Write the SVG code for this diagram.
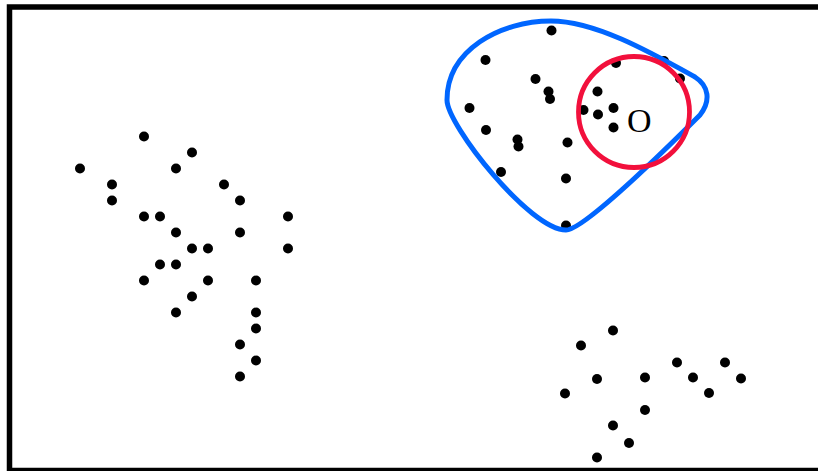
<svg xmlns="http://www.w3.org/2000/svg" width="818" height="471" viewBox="0 0 818 471">
<style>
.d{fill:#000}
.frame{fill:#fff;stroke:#000;stroke-width:5.5}
.blob{fill:none;stroke:#0066ff;stroke-width:5}
.ring{fill:none;stroke:#f2103c;stroke-width:4.8}
.lbl{font-family:"Liberation Serif",serif;font-size:34px;fill:#000}
</style>
<rect class="frame" x="9.5" y="7" width="900" height="463.5"/>
<g id="cluster-left">
<circle class="d" cx="144" cy="136.5" r="5"/><circle class="d" cx="192" cy="152.5" r="5"/>
<circle class="d" cx="80" cy="168.5" r="5"/><circle class="d" cx="176" cy="168.5" r="5"/>
<circle class="d" cx="112" cy="184.5" r="5"/><circle class="d" cx="224" cy="184.5" r="5"/>
<circle class="d" cx="112" cy="200.5" r="5"/><circle class="d" cx="240" cy="200.5" r="5"/>
<circle class="d" cx="144" cy="216.5" r="5"/><circle class="d" cx="160" cy="216.5" r="5"/><circle class="d" cx="288" cy="216.5" r="5"/>
<circle class="d" cx="176" cy="232.5" r="5"/><circle class="d" cx="240" cy="232.5" r="5"/>
<circle class="d" cx="192" cy="248.5" r="5"/><circle class="d" cx="208" cy="248.5" r="5"/><circle class="d" cx="288" cy="248.5" r="5"/>
<circle class="d" cx="160" cy="264.5" r="5"/><circle class="d" cx="176" cy="264.5" r="5"/>
<circle class="d" cx="144" cy="280.5" r="5"/><circle class="d" cx="208" cy="280.5" r="5"/><circle class="d" cx="256" cy="280.5" r="5"/>
<circle class="d" cx="192" cy="296.5" r="5"/>
<circle class="d" cx="176" cy="312.5" r="5"/><circle class="d" cx="256" cy="312.5" r="5"/>
<circle class="d" cx="256" cy="328.5" r="5"/>
<circle class="d" cx="240" cy="344.5" r="5"/>
<circle class="d" cx="256" cy="360.5" r="5"/>
<circle class="d" cx="240" cy="376.5" r="5"/>
</g>
<g id="cluster-bottom-right">
<circle class="d" cx="613" cy="330.5" r="5"/><circle class="d" cx="581" cy="345.5" r="5"/>
<circle class="d" cx="677" cy="362.5" r="5"/><circle class="d" cx="725" cy="362.5" r="5"/>
<circle class="d" cx="597" cy="379" r="5"/><circle class="d" cx="645" cy="377.5" r="5"/>
<circle class="d" cx="693" cy="377.5" r="5"/><circle class="d" cx="741" cy="378.5" r="5"/>
<circle class="d" cx="565" cy="393.5" r="5"/><circle class="d" cx="709" cy="393" r="5"/>
<circle class="d" cx="645" cy="410" r="5"/><circle class="d" cx="613" cy="425.5" r="5"/>
<circle class="d" cx="629" cy="443" r="5"/><circle class="d" cx="597" cy="457.5" r="5"/>
</g>
<g id="cluster-top">
<circle class="d" cx="551.5" cy="30.5" r="5"/><circle class="d" cx="485.5" cy="60" r="5"/>
<circle class="d" cx="535.5" cy="79" r="5"/><circle class="d" cx="548.5" cy="91.5" r="5"/>
<circle class="d" cx="550" cy="99" r="5"/><circle class="d" cx="469.5" cy="108" r="5"/>
<circle class="d" cx="616" cy="63" r="5"/><circle class="d" cx="664" cy="61" r="5"/>
<circle class="d" cx="680" cy="78.5" r="5"/><circle class="d" cx="597.5" cy="91.5" r="5"/>
<circle class="d" cx="583.5" cy="110" r="5"/><circle class="d" cx="598" cy="114.5" r="5"/>
<circle class="d" cx="613.5" cy="108" r="5"/><circle class="d" cx="613.5" cy="127.5" r="5"/>
<circle class="d" cx="486" cy="130" r="5"/><circle class="d" cx="517.5" cy="139.5" r="5"/>
<circle class="d" cx="518.5" cy="146.5" r="5"/><circle class="d" cx="567.5" cy="142.5" r="5"/>
<circle class="d" cx="501" cy="172" r="5"/><circle class="d" cx="566" cy="178.5" r="5"/>
<circle class="d" cx="566" cy="225.5" r="5"/>
</g>
<g id="region-blue">
<path class="blob" d="M551,21 C500,21 447,50 447,100 C447,125 530,230 566,230 C585,230 680,135 700,115 C711,101 709,86 695,77 C650,52 595,21 551,21 Z"/>
</g>
<g id="region-red">
<circle class="ring" cx="634" cy="112" r="55.5"/>
<text class="lbl" x="627" y="131.5">O</text>
</g>
</svg>
